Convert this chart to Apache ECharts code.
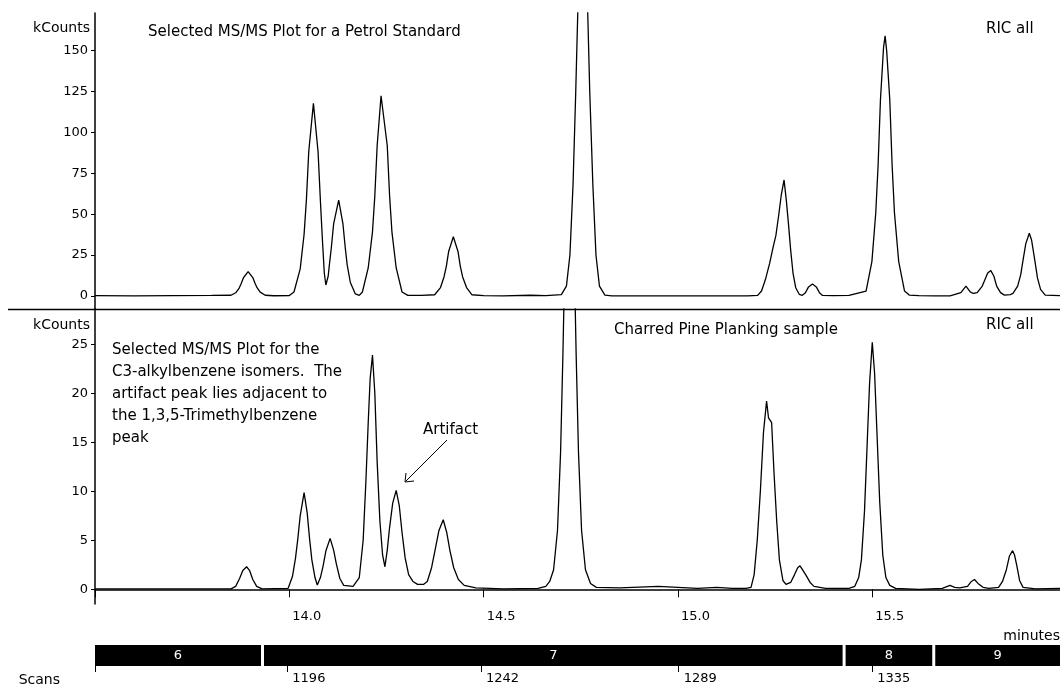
<!DOCTYPE html>
<html><head><meta charset="utf-8">
<script src="https://cdn.jsdelivr.net/npm/echarts@6/dist/echarts.min.js"></script>
<style>html,body{margin:0;padding:0;background:#fff}#c{width:1060px;height:688px}</style>
</head><body><div id="c"></div>
<script>
// ---- data: [minutes, kCounts] ----
const petrolTrace = [
[13.50,0.2],[13.60,0.0],[13.70,0.2],[13.80,0.3],[13.850,0.4],[13.863,2.1],[13.871,4.8],[13.876,7.4],[13.882,11.1],[13.894,14.8],[13.906,11.2],[13.912,7.6],[13.917,5.0],[13.925,2.3],[13.938,0.4],[13.96,0.1],[14.00,0.2],
[14.012,2.4],[14.028,16.5],[14.038,37.7],[14.044,58.9],[14.050,88.3],[14.062,117.7],[14.074,88],[14.080,58],[14.085,35],[14.090,14],[14.094,6.7],[14.100,12],[14.103,18.8],[14.108,29.3],[14.114,44],[14.127,58.6],[14.138,44],[14.144,29.3],[14.149,18.8],[14.157,8.2],[14.170,1.2],[14.180,0.3],
[14.188,2.4],[14.203,17.1],[14.214,39.2],[14.220,61.2],[14.226,91.8],[14.236,122.4],[14.240,122.4],[14.252,91.8],[14.258,61.2],[14.264,39.2],[14.275,17.1],[14.290,2.4],[14.305,0.3],[14.34,0.3],
[14.374,0.7],[14.389,5.1],[14.398,11.6],[14.404,18.1],[14.410,27.2],[14.422,36.2],[14.434,27.2],[14.440,18.1],[14.446,11.6],[14.456,5.1],[14.470,0.7],[14.50,0.2],[14.55,0.0],[14.62,0.4],[14.66,0.2],
[14.700,0.8],[14.713,6],[14.722,25],[14.730,68],[14.737,125],[14.744,190],[14.755,225],[14.766,190],[14.773,125],[14.781,68],[14.789,25],[14.798,6],[14.812,0.5],[14.83,0],[14.95,0],[15.10,0],[15.18,0],
[15.205,0.3],[15.215,3],[15.225,10],[15.236,20],[15.245,30],[15.252,37],[15.259,49],[15.266,62],[15.273,70.9],[15.279,58],[15.284,45],[15.290,28],[15.296,14],[15.303,5],[15.312,1],[15.320,0.4],[15.328,2],[15.336,5.5],[15.346,7.3],[15.356,5.5],[15.364,2],[15.372,0.3],[15.40,0.2],[15.44,0.3],
[15.484,3],[15.499,21],[15.509,51],[15.515,80],[15.521,120],[15.529,152],[15.533,159],[15.537,150],[15.545,120],[15.551,80],[15.557,51],[15.568,21],[15.583,3],[15.595,0.5],[15.62,0.2],[15.66,0.0],[15.70,0.0],
[15.728,2],[15.741,6],[15.752,2.5],[15.760,1.5],[15.770,2],[15.783,6],[15.790,10],[15.797,14],[15.805,15.5],[15.813,12],[15.820,6],[15.830,2],[15.840,0.5],[15.855,0.8],[15.862,1.5],[15.874,6],[15.882,13],[15.888,22],[15.895,32],[15.904,38.3],[15.910,34],[15.918,22],[15.925,11],[15.933,4],[15.945,0.5],[15.983,0.2]
];
const pineTrace = [
[13.50,0.05],[13.70,0.05],[13.850,0.05],[13.862,0.3],[13.872,1.1],[13.880,1.9],[13.890,2.3],[13.898,1.9],[13.906,1.0],[13.916,0.3],[13.930,0.05],[13.997,0.1],
[14.008,1.3],[14.016,3.2],[14.022,5.2],[14.028,7.5],[14.038,9.86],[14.046,7.8],[14.052,5.2],[14.058,3],[14.066,1.2],[14.072,0.44],[14.080,1.2],[14.087,2.4],[14.094,3.9],[14.105,5.2],[14.114,4],[14.121,2.6],[14.130,1.1],[14.140,0.4],[14.164,0.3],
[14.180,1.2],[14.190,5],[14.197,11],[14.203,17],[14.208,21.5],[14.214,23.9],[14.220,20],[14.226,13],[14.233,7],[14.240,3.5],[14.246,2.3],[14.252,4],[14.258,6.3],[14.266,8.8],[14.275,10.1],[14.283,8.5],[14.290,5.8],[14.298,3.2],[14.307,1.5],[14.318,0.8],[14.330,0.5],[14.345,0.5],
[14.355,0.8],[14.366,2.2],[14.375,4],[14.385,6],[14.396,7.1],[14.405,5.8],[14.413,4],[14.423,2.2],[14.435,1.0],[14.450,0.4],[14.480,0.15],[14.55,0.05],[14.64,0.1],[14.66,0.3],
[14.670,0.8],[14.680,2],[14.690,6],[14.698,14],[14.704,24],[14.710,36],[14.721,48],[14.732,36],[14.738,24],[14.744,14],[14.752,6],[14.762,2],[14.775,0.6],[14.790,0.2],[14.85,0.15],[14.95,0.3],[15.05,0.1],[15.10,0.2],[15.14,0.1],[15.175,0.1],
[15.188,0.2],[15.196,1.5],[15.204,5],[15.212,10],[15.220,16],[15.228,19.2],[15.233,17.5],[15.241,17],[15.247,12],[15.254,7],[15.261,3],[15.270,0.9],[15.278,0.5],[15.290,0.7],[15.300,1.5],[15.308,2.2],[15.314,2.4],[15.322,1.9],[15.330,1.4],[15.340,0.7],[15.350,0.3],[15.38,0.1],[15.44,0.1],
[15.455,0.3],[15.465,1.2],[15.472,3],[15.480,8],[15.487,15],[15.493,21],[15.500,25.2],[15.506,22],[15.512,16],[15.519,9],[15.527,3.5],[15.535,1.2],[15.545,0.4],[15.56,0.1],[15.62,0.0],[15.68,0.1],
[15.690,0.25],[15.700,0.4],[15.712,0.2],[15.725,0.15],[15.745,0.3],[15.755,0.8],[15.763,1.0],[15.772,0.6],[15.785,0.2],[15.80,0.1],[15.825,0.2],[15.835,0.8],[15.845,2],[15.853,3.4],[15.861,3.94],[15.866,3.5],[15.872,2.4],[15.879,0.9],[15.888,0.2],[15.92,0.05],[15.983,0.1]
];
const minuteTicks = [14.0, 14.5, 15.0, 15.5];
const minuteTickMarks = [13.5, 14.0, 14.5, 15.0, 15.5];
const petrolTicks = [0, 25, 50, 75, 100, 125, 150];
const pineTicks = [0, 5, 10, 15, 20, 25];
const scanTicks = [1196, 1242, 1289, 1335];
const scanTickMarks = [1150.3, 1196, 1242, 1289, 1335];
const segmentLabels = ['6', '7', '8', '9'];
const segmentBounds = [1150.3, 1190.1, 1328.3, 1349.6, 1379.6];
const blockText = ['Selected MS/MS Plot for the', 'C3-alkylbenzene isomers.  The', 'artifact peak lies adjacent to', 'the 1,3,5-Trimethylbenzene', 'peak'];

const FF = "'DejaVu Sans', sans-serif";
const segData = segmentLabels.map((l, i) => [segmentBounds[i], segmentBounds[i + 1], i]);

const chart = echarts.init(document.getElementById('c'), null, {renderer: 'canvas'});
const axLine = {show: true, lineStyle: {color: '#000', width: 1.5}};
const txt = (t, x, y, extra) => ({type: 'text', x: x, y: y, style: Object.assign({text: t, font: '15px ' + FF, fill: '#000', verticalAlign: 'middle'}, extra || {})});

chart.setOption({
  animation: false,
  backgroundColor: '#fff',
  grid: [
    {left: 95, top: 13, width: 965, height: 296},
    {left: 95, top: 309, width: 965, height: 295},
    {left: 95, top: 645, width: 965, height: 21}
  ],
  xAxis: [
    {gridIndex: 0, type: 'value', min: 13.5, max: 15.983, axisLine: {show: false}, axisTick: {show: false}, axisLabel: {show: false}, splitLine: {show: false}},
    {gridIndex: 1, type: 'value', min: 13.5, max: 15.983, axisLine: axLine,
      axisTick: {show: true, customValues: minuteTickMarks, length: 8, lineStyle: {color: '#000', width: 1}},
      axisLabel: {show: true, customValues: minuteTicks, formatter: v => v.toFixed(1), align: 'left', verticalAlign: 'top', margin: 6, padding: [0, 0, 0, 3], color: '#000', fontFamily: FF, fontSize: 13},
      splitLine: {show: false}},
    {gridIndex: 2, type: 'value', min: 1150.3, max: 1379.6, axisLine: {show: false},
      axisTick: {show: true, customValues: scanTickMarks, length: 6, lineStyle: {color: '#000', width: 1}},
      axisLabel: {show: true, customValues: scanTicks, formatter: v => String(Math.round(v)), align: 'left', verticalAlign: 'top', margin: 6, padding: [0, 0, 0, 5], color: '#000', fontFamily: FF, fontSize: 13},
      splitLine: {show: false}}
  ],
  yAxis: [
    {gridIndex: 0, type: 'value', min: -8, max: 173, axisLine: axLine,
      axisTick: {show: true, customValues: petrolTicks, length: 4, lineStyle: {color: '#000'}},
      axisLabel: {customValues: petrolTicks, margin: 7, color: '#000', fontFamily: FF, fontSize: 13},
      splitLine: {show: false}},
    {gridIndex: 1, type: 'value', min: -1.5, max: 28.6, axisLine: axLine,
      axisTick: {show: true, customValues: pineTicks, length: 4, lineStyle: {color: '#000'}},
      axisLabel: {customValues: pineTicks, margin: 7, color: '#000', fontFamily: FF, fontSize: 13},
      splitLine: {show: false}},
    {gridIndex: 2, type: 'value', min: 0, max: 1, show: false}
  ],
  series: [
    {type: 'line', xAxisIndex: 0, yAxisIndex: 0, data: petrolTrace, symbol: 'none', clip: true, lineStyle: {color: '#000', width: 1.3}},
    {type: 'line', xAxisIndex: 1, yAxisIndex: 1, data: pineTrace, symbol: 'none', clip: true, lineStyle: {color: '#000', width: 1.3}},
    {type: 'custom', xAxisIndex: 2, yAxisIndex: 2, data: segData, clip: false,
      renderItem: function (params, api) {
        const i = api.value(2);
        const a = api.coord([api.value(0), 1]);
        const b = api.coord([api.value(1), 0]);
        const x0 = a[0] + (i > 0 ? 1.5 : 0);
        const x1 = b[0] - (i < segmentLabels.length - 1 ? 1.5 : 0);
        return {type: 'group', children: [
          {type: 'rect', shape: {x: x0, y: a[1], width: x1 - x0, height: b[1] - a[1]}, style: {fill: '#000'}},
          {type: 'text', style: {text: segmentLabels[i], x: (x0 + x1) / 2, y: (a[1] + b[1]) / 2, fill: '#fff', align: 'center', verticalAlign: 'middle', font: '13px ' + FF}}
        ]};
      }}
  ],
  graphic: [
    {type: 'line', shape: {x1: 8, y1: 309.5, x2: 1060, y2: 309.5}, style: {stroke: '#000', lineWidth: 1.5}},
    txt('kCounts', 90, 28, {align: 'right', font: '14px ' + FF}),
    txt('kCounts', 90, 325, {align: 'right', font: '14px ' + FF}),
    txt('Selected MS/MS Plot for a Petrol Standard', 148, 32),
    txt('RIC all', 986, 29),
    txt('Charred Pine Planking sample', 614, 330),
    txt('RIC all', 986, 325),
    {type: 'text', x: 112, y: 339, style: {text: blockText.join('\n'), font: '15px ' + FF, fill: '#000', lineHeight: 22, verticalAlign: 'top'}},
    txt('Artifact', 423, 430),
    {type: 'line', shape: {x1: 447, y1: 440, x2: 406, y2: 481}, style: {stroke: '#000', lineWidth: 1}},
    {type: 'polyline', shape: {points: [[406, 473], [405, 482], [414, 481]]}, style: {stroke: '#000', lineWidth: 1, fill: null}},
    txt('minutes', 1060, 636, {align: 'right', font: '14px ' + FF}),
    txt('Scans', 60, 680, {align: 'right', font: '14px ' + FF})
  ]
});
</script></body></html>
